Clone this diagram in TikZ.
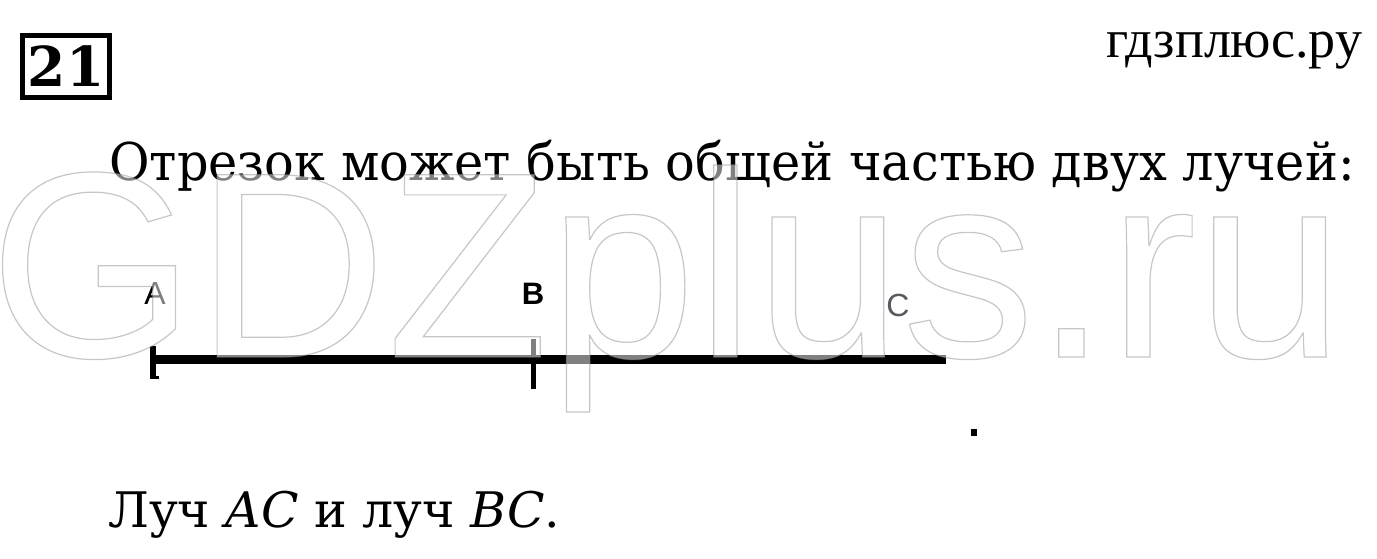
\documentclass[tikz,border=0pt]{standalone}
\usepackage{fontspec}
\setmainfont{DejaVu Serif}
\newfontfamily\taskfont[FakeStretch=0.95]{DejaVu Serif}
\newfontfamily\sitefont{Liberation Serif}
\newfontfamily\wmfont{Liberation Sans}
\newfontfamily\labelfont{Liberation Sans}
\usetikzlibrary{calc}
\definecolor{labelgray}{rgb}{0.35, 0.35, 0.38}
\newcommand{\outlined}[1]{\special{pdf:literal 2 Tr 1.2 w 0.56 G}#1\special{pdf:literal 0 Tr}}

\begin{document}
\begin{tikzpicture}[x=1pt, y=-1pt]
        \useasboundingbox (0,0) rectangle (1377,559);

        \node [draw, line width=5pt, minimum width=87pt, minimum height=62pt, inner sep=0pt,
               font=\bfseries\fontsize{55}{55}\selectfont] (Num) at (66, 66.5) {21};
        \node [anchor=base west, inner sep=0pt, font=\sitefont\fontsize{54}{54}\selectfont] (Site) at (1106, 58) {гдзплюс.ру};

        \node [anchor=base west, inner sep=0pt, font=\taskfont\fontsize{52}{52}\selectfont] (Task) at (109, 181) {Отрезок может быть общей частью двух лучей:};

        \coordinate (A) at (153, 359.5);
        \coordinate (B) at (533.5, 359.5);
        \coordinate (E) at (946, 359.5);

        \draw [line width=9pt] (A) -- (E);
        \draw [line width=6pt] ($(A)+(0,-13.5)$) -- ($(A)+(0,19.5)$);
        \fill ($(A)+(-3,16.5)$) rectangle ($(A)+(6,19.5)$);
        \draw [line width=5.5pt] ($(B)+(0,-20.5)$) -- ($(B)+(0,29.5)$);
        \fill (971, 429) rectangle (977, 436);

        \node [inner sep=0pt, font=\labelfont\fontsize{32}{32}\selectfont] (LA) at (155, 293) {A};
        \node [inner sep=0pt, font=\labelfont\bfseries\fontsize{31}{31}\selectfont] (LB) at (533, 294) {B};
        \node [inner sep=0pt, text=labelgray, font=\labelfont\fontsize{32}{32}\selectfont] (LC) at (898, 305) {C};

        \node [anchor=base west, inner sep=0pt, font=\fontsize{49}{49}\selectfont] (Answer) at (108, 527) {Луч \textit{AC} и луч \textit{BC}.};

        \node [anchor=base west, inner sep=0pt, text=white, text opacity=0.5,
               font=\wmfont\fontsize{265}{265}\selectfont] (Mark) at (-11, 357) {\outlined{GDZplus.ru}};
\end{tikzpicture}
\end{document}
